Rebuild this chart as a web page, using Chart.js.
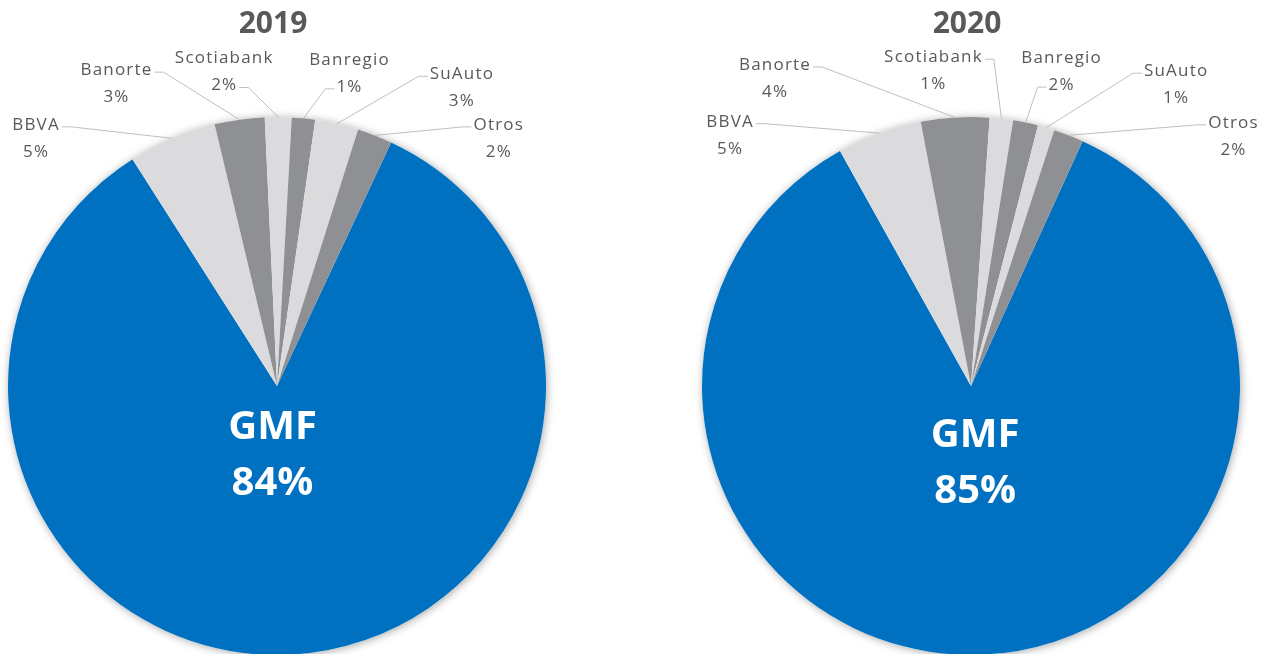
<!DOCTYPE html>
<html>
<head>
<meta charset="utf-8">
<script src="https://cdn.jsdelivr.net/npm/chart.js@4/dist/chart.umd.min.js"></script>
<style>
  html, body { margin: 0; padding: 0; background: #fff; overflow: hidden; width: 1270px; height: 654px; }
  .pie { position: absolute; top: 0; }
</style>
</head>
<body>
<canvas id="pie2019" class="pie" width="635" height="800" style="left:0"></canvas>
<canvas id="pie2020" class="pie" width="635" height="800" style="left:635px"></canvas>
<script>
// market share by lender
const categories = ['GMF', 'BBVA', 'Banorte', 'Scotiabank', 'Banregio', 'SuAuto', 'Otros'];
const values2019 = [84.0, 5.3, 3.0, 1.6, 1.4, 2.6, 2.1];
const values2020 = [85.1, 5.1, 4.1, 1.4, 1.5, 1.0, 1.8];

const sliceColors = ['#0070C0', '#DBDBDD', '#8F9094', '#DBDBDD', '#8F9094', '#DBDBDD', '#8F9094'];
const textGray = '#595959';
const leaderGray = '#BFBFBF';

// label block offset from the rim point [dx, dy, line the leader attaches to]
const layout2019 = [[-136, 0, 0], [-123, -36, 0], [-54, -45, 1], [46, -45, 1], [125, -36, 0], [124, 3, 0]];
const layout2020 = [[-149, 2, 0], [-180, -39, 0], [-68, -48, 0], [36, -51, 1], [130, -43, 0], [165, 1, 0]];

const pctText = (values, i) => {
  const total = values.reduce((a, b) => a + b, 0);
  return Math.round(values[i] / total * 100) + '%';
};

const pieLabels = {
  id: 'pieLabels',
  beforeDatasetsDraw(chart) {
    // soft shadow under the whole pie
    const arc = chart.getDatasetMeta(0).data[0];
    const ctx = chart.ctx;
    ctx.save();
    ctx.shadowColor = 'rgba(0,0,0,0.35)';
    ctx.shadowBlur = 9;
    ctx.shadowOffsetX = 1;
    ctx.shadowOffsetY = 1;
    ctx.fillStyle = '#fff';
    ctx.beginPath();
    ctx.arc(arc.x, arc.y, arc.outerRadius, 0, Math.PI * 2);
    ctx.fill();
    ctx.restore();
  },
  afterDatasetsDraw(chart, args, opts) {
    const ctx = chart.ctx;
    const meta = chart.getDatasetMeta(0);
    const values = chart.data.datasets[0].data;
    const first = meta.data[0];

    ctx.save();
    ctx.textAlign = 'center';
    ctx.textBaseline = 'middle';

    // title
    ctx.fillStyle = textGray;
    ctx.font = 'bold 30px "Open Sans"';
    ctx.fillText(opts.title, first.x - 4, 24);

    // outside labels with leader lines
    ctx.font = '17px "Open Sans"';
    ctx.letterSpacing = '1.2px';
    const lineH = 27;
    for (let i = 1; i < meta.data.length; i++) {
      const a = meta.data[i];
      const mid = (a.startAngle + a.endAngle) / 2;
      const ax = a.x + Math.cos(mid) * a.outerRadius;
      const ay = a.y + Math.sin(mid) * a.outerRadius;
      const [dx, dy, line] = opts.layout[i - 1];
      const bx = ax + dx, by = ay + dy;
      const lines = [chart.data.labels[i], pctText(values, i)];
      const ys = [by - lineH / 2, by + lineH / 2];
      ctx.fillStyle = textGray;
      ctx.fillText(lines[0], bx, ys[0]);
      ctx.fillText(lines[1], bx, ys[1]);

      const w = ctx.measureText(lines[line]).width;
      const left = dx < 0;
      const tx = left ? bx + w / 2 + 2 : bx - w / 2 - 2;
      const ty = ys[line] + 2;
      const ex = tx + (left ? 9 : -9);
      ctx.strokeStyle = leaderGray;
      ctx.lineWidth = 1;
      ctx.beginPath();
      ctx.moveTo(tx, ty);
      ctx.lineTo(ex, ty);
      ctx.lineTo(ax, ay);
      ctx.stroke();
    }

    // big label inside the GMF slice
    ctx.letterSpacing = '0px';
    const mid0 = (first.startAngle + first.endAngle) / 2;
    const gx = first.x + Math.cos(mid0) * first.outerRadius * opts.inner.f + opts.inner.dx;
    const gy = first.y + Math.sin(mid0) * first.outerRadius * opts.inner.f;
    ctx.fillStyle = '#fff';
    ctx.font = 'bold 40px "Open Sans"';
    ctx.fillText(chart.data.labels[0], gx, gy - 28);
    ctx.fillText(pctText(values, 0), gx, gy + 28);
    ctx.restore();
  }
};

const makePie = (id, title, values, rotation, padding, layout, inner) => {
  const ctx = document.getElementById(id).getContext('2d');
  return new Chart(ctx, {
    type: 'pie',
    data: {
      labels: categories,
      datasets: [{
        data: values,
        backgroundColor: sliceColors,
        borderWidth: 0
      }]
    },
    options: {
      responsive: false,
      animation: false,
      rotation: rotation,
      layout: { padding: padding },
      plugins: {
        legend: { display: false },
        tooltip: { enabled: false },
        pieLabels: { title: title, layout: layout, inner: inner }
      }
    },
    plugins: [pieLabels]
  });
};

makePie('pie2019', '2019', values2019, 25.1,
  { left: 8, right: 89, top: 117, bottom: 145 }, layout2019, { f: 0.26, dx: -9 });
makePie('pie2020', '2020', values2020, 24.5,
  { left: 67, right: 30, top: 117, bottom: 145 }, layout2020, { f: 0.29, dx: 1 });
</script>
</body>
</html>
